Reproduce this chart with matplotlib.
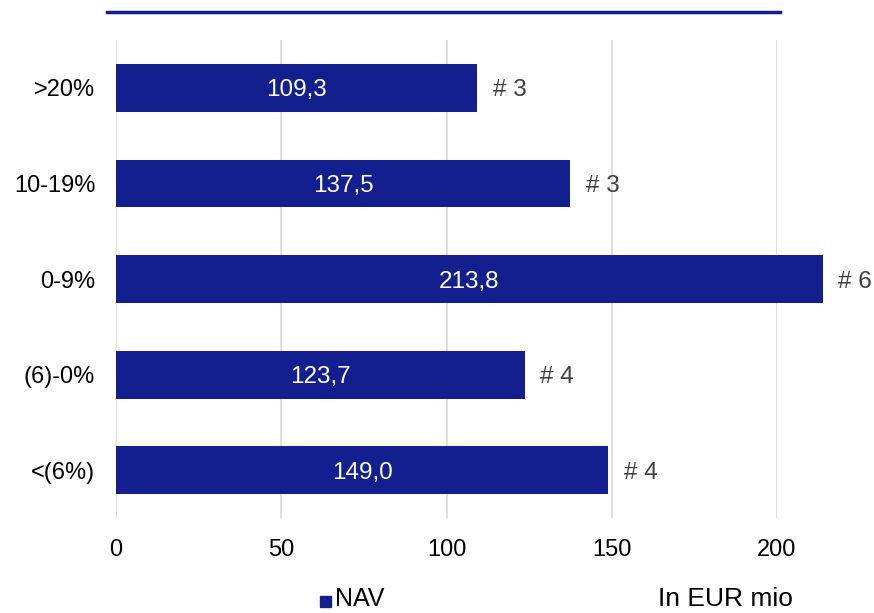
import matplotlib
matplotlib.use("Agg")
import matplotlib.pyplot as plt
from matplotlib.lines import Line2D
from matplotlib.patches import Rectangle

plt.rcParams['font.family'] = ['Liberation Sans', 'DejaVu Sans']

categories = [">20%", "10-19%", "0-9%", "(6)-0%", "<(6%)"]
nav = [109.3, 137.5, 213.8, 123.7, 149.0]
counts = ["# 3", "# 3", "# 6", "# 4", "# 4"]
xticks = [0, 50, 100, 150, 200]

bar_color = "#131F8E"
grid_color = "#D9D9D9"

fig = plt.figure(figsize=(8.74, 6.13), dpi=100)
ax = fig.add_axes([116/874, 1 - 518/613, (777 - 116)/874, (518 - 40)/613])

ypos = list(range(len(categories)))
bars = ax.barh(ypos, nav, height=0.5, color=bar_color, zorder=3, clip_on=False)
ax.set_ylim(len(categories) - 0.5, -0.5)
ax.set_xlim(0, 200)
ax.set_xticks(xticks)
ax.set_xticklabels([str(t) for t in xticks], fontsize=17)
ax.set_yticks(ypos)
ax.set_yticklabels(categories, fontsize=17, va='center_baseline')
ax.tick_params(axis='x', length=0, pad=15)
ax.tick_params(axis='y', length=0, pad=15)
ax.grid(axis='x', color=grid_color, linewidth=1.2, zorder=0)
for s in ax.spines.values():
    s.set_visible(False)

for y, v, c in zip(ypos, nav, counts):
    ax.text(v / 2, y, f"{v:.1f}".replace(".", ","), color="white", fontsize=17.5,
            ha="center", va="center_baseline", zorder=4)
    ax.annotate(c, xy=(v, y), xytext=(11, 0), textcoords="offset points",
                ha="left", va="center_baseline", fontsize=17.5, color="#404040",
                annotation_clip=False)

# title underline
fig.add_artist(Line2D([107/874, 780/874], [1 - 12/613, 1 - 12/613],
                      color=bar_color, linewidth=2.5))

# legend
fig.add_artist(Rectangle((320/874, 1 - 607/613), 11/874, 11/613,
                         color=bar_color, transform=fig.transFigure))
fig.text(335/874, 1 - 606/613, "NAV", fontsize=18, va="baseline", ha="left")
fig.text(658/874, 1 - 599/613, "In EUR mio", fontsize=19, va="center", ha="left")

fig.savefig("out.png", dpi=100)
